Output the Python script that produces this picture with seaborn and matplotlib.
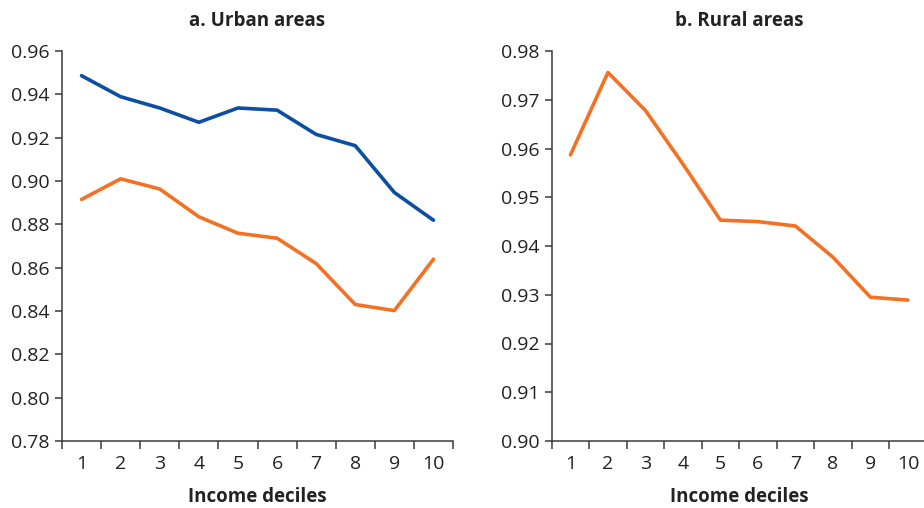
import matplotlib
matplotlib.use("Agg")
import matplotlib.pyplot as plt
import seaborn as sns
import pandas as pd
import numpy as np

deciles = [1, 2, 3, 4, 5, 6, 7, 8, 9, 10]
urban_blue = [0.9486, 0.9389, 0.9337, 0.9271, 0.9337, 0.9327, 0.9215, 0.9163, 0.8947, 0.8819]
urban_orange = [0.8915, 0.9010, 0.8963, 0.8835, 0.8759, 0.8736, 0.8619, 0.8430, 0.8402, 0.8639]
rural_orange = [0.9587, 0.9756, 0.9678, 0.9568, 0.9453, 0.9450, 0.9441, 0.9377, 0.9295, 0.9289]
urban_yticks = [0.78, 0.80, 0.82, 0.84, 0.86, 0.88, 0.90, 0.92, 0.94, 0.96]
rural_yticks = [0.90, 0.91, 0.92, 0.93, 0.94, 0.95, 0.96, 0.97, 0.98]

BLUE = "#0b4ea2"
ORANGE = "#f47124"
AX = "#3a3a3a"

sns.set_style("white")
plt.rcParams['font.family'] = ['Open Sans', 'DejaVu Sans']

fig = plt.figure(figsize=(9.24, 5.08), dpi=100)
ax1 = fig.add_axes([62/924, 1-441/508, (453-62)/924, 390/508])
ax2 = fig.add_axes([551.7/924, 1-441/508, 375/924, 390/508])

dfu = pd.DataFrame({"decile": deciles + deciles,
                    "value": urban_blue + urban_orange,
                    "series": ["blue"]*10 + ["orange"]*10})
sns.lineplot(data=dfu, x="decile", y="value", hue="series",
             palette={"blue": BLUE, "orange": ORANGE}, linewidth=2.6,
             legend=False, ax=ax1)
dfr = pd.DataFrame({"decile": deciles, "value": rural_orange})
sns.lineplot(data=dfr, x="decile", y="value", color=ORANGE, linewidth=2.6,
             legend=False, ax=ax2)

def style(ax, yticks, title):
    ax.set_xlim(0.5, 10.5)
    ax.set_ylim(yticks[0], yticks[-1])
    ax.set_yticks(yticks)
    ax.set_yticklabels([f"{v:.2f}" for v in yticks])
    ax.set_xticks([d - 0.5 for d in deciles] + [10.5])
    ax.set_xticklabels([])
    ax.set_xticks(deciles, minor=True)
    ax.set_xticklabels([str(d) for d in deciles], minor=True)
    ax.tick_params(axis="x", which="major", bottom=True, length=6, width=1.1, color=AX, direction="out")
    ax.tick_params(axis="x", which="minor", bottom=True, length=0, pad=10, labelsize=14, labelcolor="#222222")
    ax.tick_params(axis="y", left=True, length=5, width=1.1, color=AX, direction="out", pad=4,
                   labelsize=14, labelcolor="#222222")
    for s in ["top", "right"]:
        ax.spines[s].set_visible(False)
    for s in ["left", "bottom"]:
        ax.spines[s].set_color(AX)
        ax.spines[s].set_linewidth(1.1)
    ax.set_xlabel("Income deciles", fontsize=13.5, fontweight="bold", labelpad=10, color="#222222")
    ax.set_ylabel("")
    ax.set_title(title, fontsize=13.5, fontweight="bold", pad=18, color="#222222")

style(ax1, urban_yticks, "a. Urban areas")
style(ax2, rural_yticks, "b. Rural areas")

fig.savefig("out.png", dpi=100)
